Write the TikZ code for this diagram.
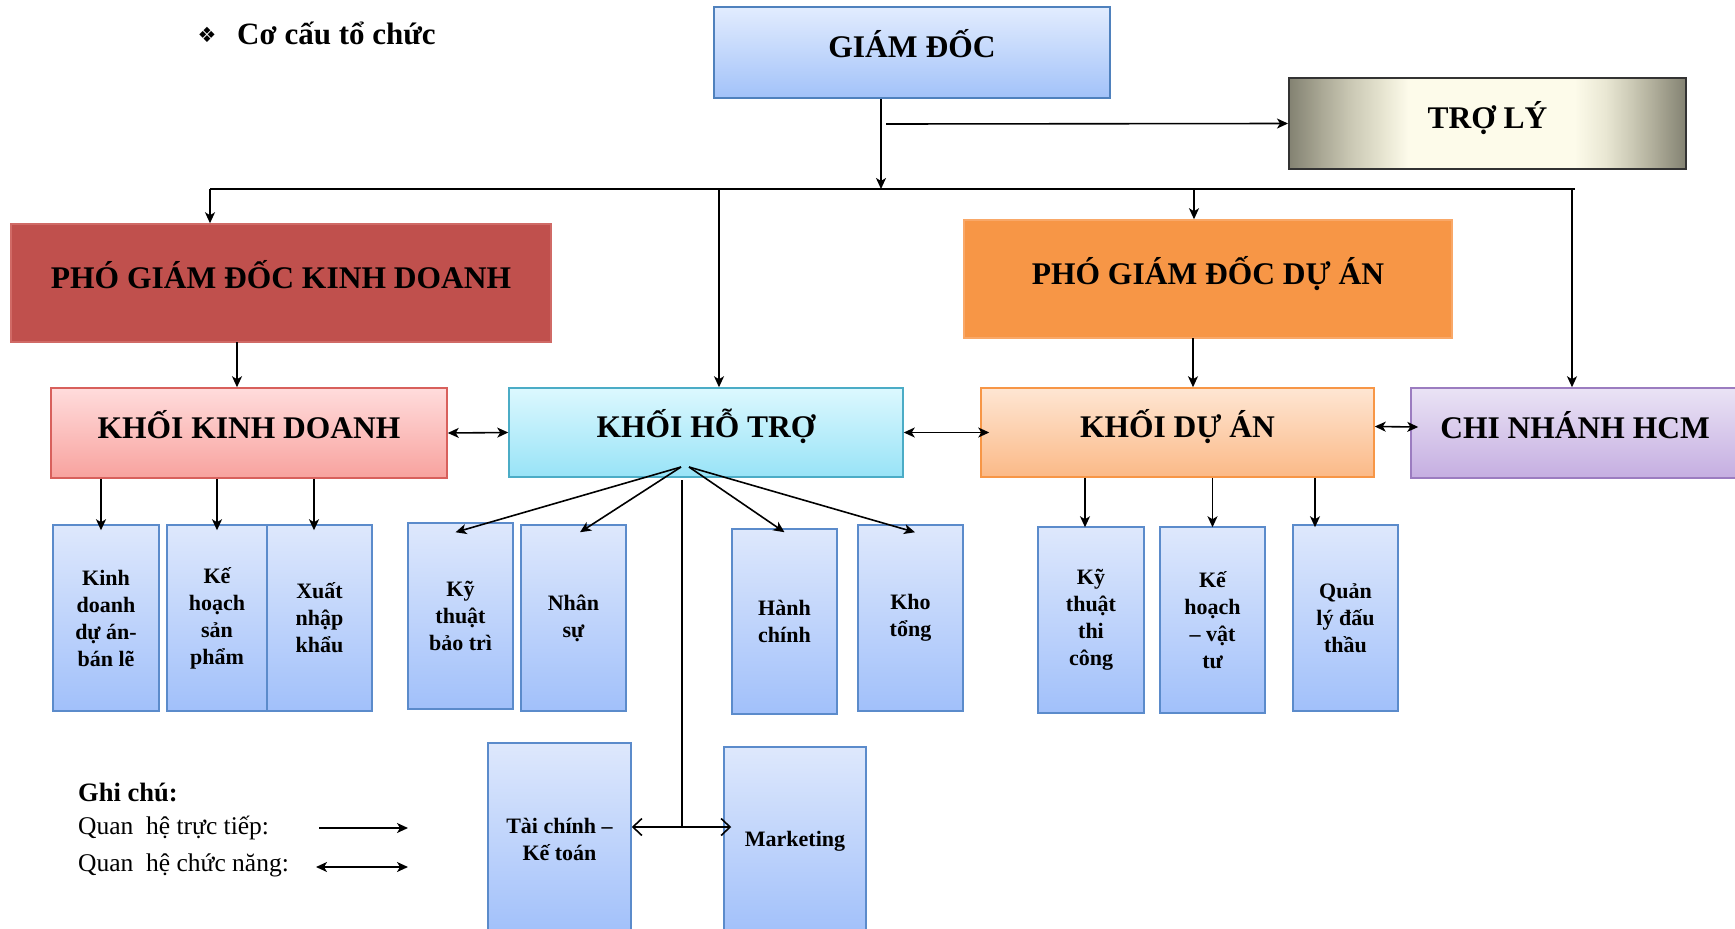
\documentclass[tikz,border=0pt]{standalone}
\usepackage{fontspec}
\setmainfont{Liberation Serif}
\newfontfamily\dejavu{DejaVu Sans}
\usetikzlibrary{arrows.meta}
\definecolor{gdT}{HTML}{E2ECFE}\definecolor{gdB}{HTML}{A2C2F9}\definecolor{gdL}{HTML}{4F81BD}
\definecolor{chL}{HTML}{5B8BCB}\definecolor{chT}{HTML}{DEE8FC}\definecolor{chB}{HTML}{A1C0FA}
\definecolor{kdT}{HTML}{FFDCDC}\definecolor{kdB}{HTML}{F8A29E}\definecolor{kdL}{HTML}{D8605C}
\definecolor{htT}{HTML}{DCF8FE}\definecolor{htB}{HTML}{98E3F7}\definecolor{htL}{HTML}{4BACC6}
\definecolor{daT}{HTML}{FEE6D3}\definecolor{daB}{HTML}{FBB987}\definecolor{daL}{HTML}{F79646}
\definecolor{cnT}{HTML}{EAE3F5}\definecolor{cnB}{HTML}{C5AEE1}\definecolor{cnL}{HTML}{9B7CC0}
\definecolor{pkd}{HTML}{C0504D}\definecolor{pkdL}{HTML}{D06A66}
\definecolor{pda}{HTML}{F79646}\definecolor{pdaL}{HTML}{F9A868}
\definecolor{troD}{HTML}{838272}\definecolor{troL}{HTML}{FDFBEA}
\definecolor{troA}{HTML}{A9A794}\definecolor{troB}{HTML}{C8C6B2}\definecolor{troC}{HTML}{E8E6D2}
\newcommand\myBig{\fontsize{31.5}{36}\selectfont\bfseries}
\newcommand\mySmall{\fontsize{22}{27}\selectfont\bfseries}
\begin{document}
\begin{tikzpicture}[x=1pt,y=-1pt,
  bx/.style={inner sep=0pt, align=center, line width=1.5pt},
  head/.style={bx, font=\myBig, text height=22pt, text depth=12pt},
  child/.style={bx, font=\mySmall, draw=chL, top color=chT, bottom color=chB},
  ln/.style={line width=1.6pt},
  arr/.style={line width=1.6pt, -{Stealth[length=11pt,width=10pt,inset=3pt]}},
  dbl/.style={line width=1.6pt, {Stealth[length=11pt,width=10pt,inset=3pt]}-{Stealth[length=11pt,width=10pt,inset=3pt]}},
  oarr/.style={line width=1.6pt, {Straight Barb[length=9pt,width=17pt]}-{Straight Barb[length=9pt,width=17pt]}}
]
\useasboundingbox (0,0) rectangle (1735,929);

% title
\node[font=\dejavu\fontsize{21}{21}\selectfont] (bul) at (207,35) {❖};
\node[anchor=west, inner sep=0pt, font=\fontsize{31}{36}\selectfont\bfseries] (title) at (237,33) {Cơ cấu tổ chức};

% TRO LY background gradient
\shade[left color=troD, right color=troA] (1289,78) rectangle (1321,169);
\shade[left color=troA, right color=troB] (1320.5,78) rectangle (1349,169);
\shade[left color=troB, right color=troC] (1348.5,78) rectangle (1384.5,169);
\shade[left color=troC, right color=troL] (1384,78) rectangle (1408.5,169);
\fill[troL] (1408,78) rectangle (1575,169);
\shade[left color=troL, right color=troC] (1574.5,78) rectangle (1607,169);
\shade[left color=troC, right color=troB] (1606.5,78) rectangle (1634.5,169);
\shade[left color=troB, right color=troA] (1634,78) rectangle (1658.5,169);
\shade[left color=troA, right color=troD] (1658,78) rectangle (1686,169);

% top level
\node[head, draw=gdL, top color=gdT, bottom color=gdB, minimum width=396pt, minimum height=91pt] (gd) at (912,52.5) {GIÁM ĐỐC};
\node[head, draw=black!80, line width=2pt, minimum width=397pt, minimum height=91pt] (troly) at (1487.5,123.5) {TRỢ LÝ};
\node[head, draw=pkdL, fill=pkd, minimum width=540pt, minimum height=118pt] (pkd) at (281,283) {PHÓ GIÁM ĐỐC KINH DOANH};
\node[head, draw=pdaL, fill=pda, minimum width=488pt, minimum height=118pt] (pda) at (1208,279) {PHÓ GIÁM ĐỐC DỰ ÁN};

% khoi
\node[head, draw=kdL, top color=kdT, bottom color=kdB, minimum width=396pt, minimum height=90pt] (kkd) at (249,433) {KHỐI KINH DOANH};
\node[head, draw=htL, top color=htT, bottom color=htB, minimum width=394pt, minimum height=89pt] (kht) at (706,432.5) {KHỐI HỖ TRỢ};
\node[head, draw=daL, top color=daT, bottom color=daB, minimum width=393pt, minimum height=89pt] (kda) at (1177.5,432.5) {KHỐI DỰ ÁN};
\node[head, draw=cnL, top color=cnT, bottom color=cnB, minimum width=328pt, minimum height=90pt] (cn) at (1575,433) {CHI NHÁNH HCM};

% children
\node[child, minimum width=106pt, minimum height=186pt] (c1) at (106,618) {Kinh\\doanh\\dự án-\\bán lẽ};
\node[child, minimum width=100pt, minimum height=186pt] (c2) at (217,618) {Kế\\hoạch\\sản\\phẩm};
\node[child, minimum width=105pt, minimum height=186pt] (c3) at (319.5,618) {Xuất\\nhập\\khẩu};
\node[child, minimum width=105pt, minimum height=186pt] (s1) at (460.5,616) {Kỹ\\thuật\\bảo trì};
\node[child, minimum width=105pt, minimum height=186pt] (s2) at (573.5,618) {Nhân\\sự};
\node[child, minimum width=105pt, minimum height=185pt] (s3) at (784.5,621.5) {Hành\\chính};
\node[child, minimum width=105pt, minimum height=186pt] (s4) at (910.5,618) {Kho\\tổng};
\node[child, minimum width=106pt, minimum height=186pt] (d1) at (1091,620) {Kỹ\\thuật\\thi\\công};
\node[child, minimum width=105pt, minimum height=186pt] (d2) at (1212.5,620) {Kế\\hoạch\\– vật\\tư};
\node[child, minimum width=105pt, minimum height=186pt] (d3) at (1345.5,618) {Quản\\lý đấu\\thầu};
\node[child, minimum width=143pt, minimum height=192pt] (tc) at (559.5,839) {Tài chính –\\Kế toán};
\node[child, minimum width=142pt, minimum height=188pt] (mk) at (795,841) {Marketing};

% bus and connectors
\coordinate (busL) at (210,189);
\coordinate (busR) at (1575,189);
\coordinate (j1) at (881,189);
\coordinate (t0) at (886,124);
\coordinate (jht) at (719,189);
\coordinate (jda) at (1194,189);
\coordinate (jcn) at (1572,189);
\coordinate (xkd) at (237,342);
\coordinate (xda) at (1193,338);
\draw[ln] (busL) -- (busR);
\draw[arr] (gd.south -| j1) -- (j1);
\draw[arr] (t0) -- (troly.west);
\draw[arr] (busL) -- (pkd.north -| busL);
\draw[arr] (jht) -- (kht.north -| jht);
\draw[arr] (jda) -- (pda.north -| jda);
\draw[arr] (jcn) -- (cn.north -| jcn);
\draw[arr] (xkd) -- (kkd.north -| xkd);
\draw[arr] (xda) -- (kda.north -| xda);

\draw[dbl] (kkd.east) -- (kht.west);
\draw[dbl] (kht.east) -- ([xshift=9pt]kda.west);
\draw[dbl] ([yshift=6pt]kda.east) -- ([yshift=6pt,xshift=8pt]cn.west);

\draw[arr, shorten >=-6pt] ([xshift=-5pt]kkd.south -| c1.north) -- ([xshift=-5pt]c1.north);
\draw[arr, shorten >=-6pt] (kkd.south -| c2.north) -- (c2.north);
\draw[arr, shorten >=-6pt] ([xshift=-5.5pt]kkd.south -| c3.north) -- ([xshift=-5.5pt]c3.north);
\draw[arr, shorten >=-1pt] ([xshift=-6pt]kda.south -| d1.north) -- ([xshift=-6pt]d1.north);
\draw[arr, shorten >=-1pt] (kda.south -| d2.north) -- (d2.north);
\draw[arr, shorten >=-3pt] ([xshift=-30.5pt]kda.south -| d3.north) -- ([xshift=-30.5pt]d3.north);

\coordinate (hL) at (681,467);
\coordinate (hR) at (689,467);
\draw[arr] (hL) -- ([xshift=-5pt,yshift=-10pt]s1.north);
\draw[arr] (hL) -- ([xshift=6.5pt,yshift=-8pt]s2.north);
\draw[arr] (hR) -- ([yshift=-4pt]s3.north);
\draw[arr] (hR) -- ([xshift=4.5pt,yshift=-8pt]s4.north);

\coordinate (v0) at (682,480);
\coordinate (v1) at (682,827);
\draw[ln] (v0) -- (v1);
\draw[oarr, shorten >=-8pt] (tc.east |- v1) -- (mk.west |- v1);

% legend
\node[anchor=west, inner sep=0pt, font=\fontsize{26.5}{30}\selectfont\bfseries] (gc) at (78,792) {Ghi chú:};
\node[anchor=west, inner sep=0pt, font=\fontsize{25.5}{30}\selectfont] (q1) at (78,828) {Quan\ \ hệ trực tiếp:};
\node[anchor=west, inner sep=0pt, font=\fontsize{25.5}{30}\selectfont] (q2) at (78,865) {Quan\ \ hệ chức năng:};
\coordinate (la1) at (319,828); \coordinate (la2) at (408,828);
\coordinate (lb1) at (316,867); \coordinate (lb2) at (408,867);
\draw[arr] (la1) -- (la2);
\draw[dbl] (lb1) -- (lb2);
\end{tikzpicture}
\end{document}
